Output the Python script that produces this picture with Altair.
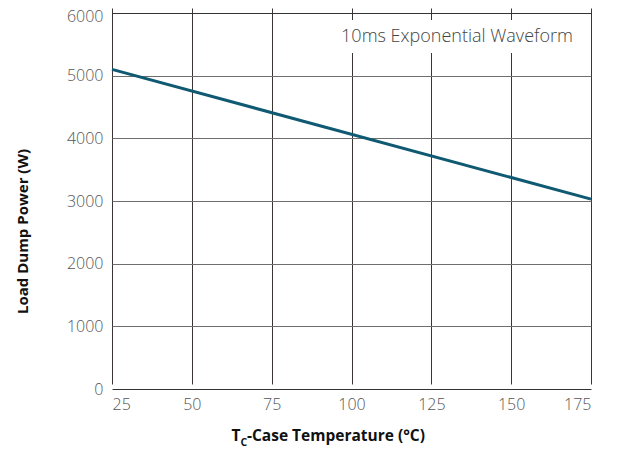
import altair as alt
import pandas as pd

temps = [25, 175]
power = [5100, 3030]
x_ticks = [25, 50, 75, 100, 125, 150, 175]
y_ticks = [0, 1000, 2000, 3000, 4000, 5000, 6000]

df = pd.DataFrame({"temp": temps, "power": power})

W = 479
TOP = 5
H = 376 + TOP
FONT = "Open Sans"

base = alt.Chart(df)

line = base.mark_line(color="#0f5a72", strokeWidth=3).encode(
    x=alt.X("temp:Q", scale=alt.Scale(domain=[25, 175], nice=False),
            axis=alt.Axis(values=x_ticks, title=None, grid=True, gridColor="#3a3434",
                          gridOpacity=1, gridWidth=1, ticks=False, domain=False,
                          labelFont=FONT, labelFontSize=16, labelFontWeight=300,
                          labelColor="#555555", labelPadding=7)),
    y=alt.Y("power:Q", scale=alt.Scale(domain=[0, 6000], nice=False, range=[H, TOP]),
            axis=alt.Axis(values=y_ticks, format="d", grid=True,
                          gridColor={"condition": {"test": "datum.value == 0 || datum.value == 6000",
                                                   "value": "#333333"}, "value": "#6e6e6e"},
                          gridOpacity=1, gridWidth=1, ticks=False, domain=False,
                          labelFont=FONT, labelFontSize=16, labelFontWeight=300,
                          labelColor="#555555", labelPadding=9,
                          labelOffset={"condition": {"test": "datum.value == 6000", "value": 3},
                                       "value": 0},
                          title="Load Dump Power (W)", titleFont=FONT, titleFontSize=15,
                          titleFontWeight="bold", titleColor="#111111", titleAngle=-90,
                          titleX=-90, titleY=223, titleAlign="center",
                          titleBaseline="middle")),
)

box = alt.Chart(pd.DataFrame({"a": [0]})).mark_rect(color="white").encode(
    x=alt.value(223), x2=alt.value(470), y=alt.value(12), y2=alt.value(45)
)
note = alt.Chart(pd.DataFrame({"t": ["10ms Exponential Waveform"]})).mark_text(
    font=FONT, fontSize=18, fontWeight=300, color="#444444", align="center", baseline="middle"
).encode(text="t:N", x=alt.value(345), y=alt.value(29))

xt1 = alt.Chart(pd.DataFrame({"t": ["T"]})).mark_text(
    font=FONT, fontSize=15.5, fontWeight="bold", color="#111111", align="left", baseline="alphabetic"
).encode(text="t:N", x=alt.value(119.5), y=alt.value(433))
xt2 = alt.Chart(pd.DataFrame({"t": ["C"]})).mark_text(
    font=FONT, fontSize=10.5, fontWeight="bold", color="#111111", align="left", baseline="alphabetic"
).encode(text="t:N", x=alt.value(128.5), y=alt.value(438))
xt3 = alt.Chart(pd.DataFrame({"t": ["-Case Temperature (°C)"]})).mark_text(
    font=FONT, fontSize=15.5, fontWeight="bold", color="#111111", align="left", baseline="alphabetic"
).encode(text="t:N", x=alt.value(135), y=alt.value(433))

chart = alt.layer(line, box, note, xt1, xt2, xt3).properties(
    width=W, height=H,
    autosize=alt.AutoSizeParams(type="none"),
    padding={"left": 104, "top": 0, "right": 20, "bottom": 62},
).configure_view(strokeWidth=0)

chart.save("out.html", embed_options={"renderer": "svg", "actions": False})
